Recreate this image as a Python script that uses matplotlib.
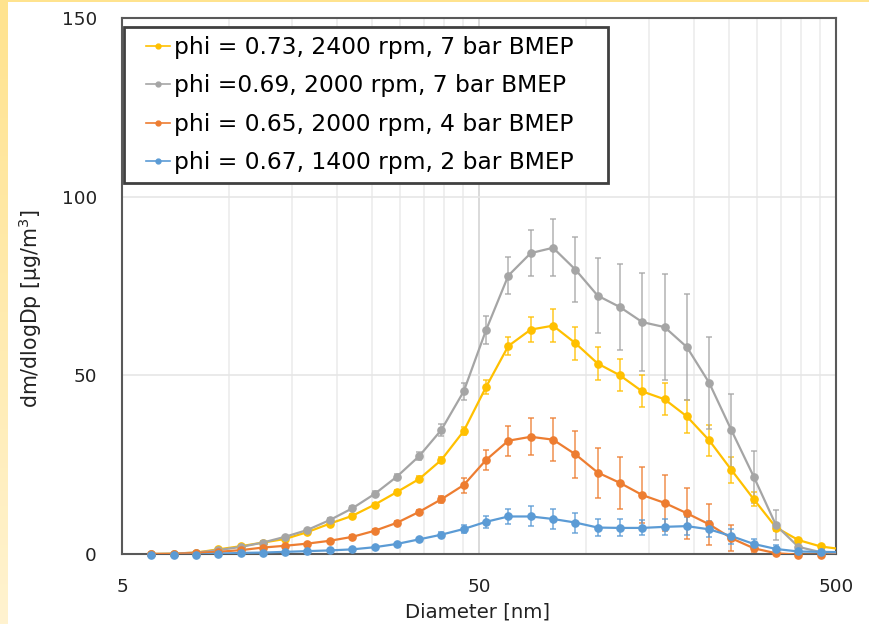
import matplotlib
matplotlib.use('Agg')
import matplotlib.pyplot as plt
from matplotlib.lines import Line2D
from matplotlib.legend_handler import HandlerLine2D
from matplotlib.ticker import FixedLocator, NullFormatter
import numpy as np

plt.rcParams['font.family'] = ['DejaVu Sans']
plt.rcParams['mathtext.default'] = 'regular'

# EEPS channel diameters [nm]
diameter = [6.04, 6.98, 8.06, 9.31, 10.8, 12.4, 14.3, 16.5, 19.1, 22.1, 25.5,
            29.4, 34.0, 39.2, 45.3, 52.3, 60.4, 69.8, 80.6, 93.1, 107.5, 124.1,
            143.3, 165.5, 191.1, 220.7, 254.8, 294.3, 339.8, 392.4, 453.2, 523.3]

labels = ['phi = 0.73, 2400 rpm, 7 bar BMEP',
          'phi =0.69, 2000 rpm, 7 bar BMEP',
          'phi = 0.65, 2000 rpm, 4 bar BMEP',
          'phi = 0.67, 1400 rpm, 2 bar BMEP']
colors = ['#FFC000', '#A5A5A5', '#ED7D31', '#5B9BD5']

# phi = 0.73, 2400 rpm, 7 bar
yellow = [0.0, 0.1, 0.4, 1.3, 2.2, 3.2, 4.2, 6.1, 8.5, 10.7, 13.8, 17.3, 21.0,
          26.3, 34.4, 46.7, 58.2, 62.8, 63.9, 59.0, 53.3, 50.0, 45.5, 43.3,
          38.5, 31.8, 23.5, 15.3, 7.4, 3.9, 2.1, 1.3]
yellow_err = [0.1, 0.1, 0.1, 0.2, 0.2, 0.2, 0.3, 0.3, 0.4, 0.4, 0.5, 0.6, 0.7,
              0.8, 1.2, 2.0, 2.4, 3.5, 4.6, 4.6, 4.7, 4.5, 4.5, 4.5, 4.7, 4.4,
              3.7, 2.0, 1.0, 0.5, 0.3, 0.2]

# phi = 0.69, 2000 rpm, 7 bar
gray = [0.0, 0.1, 0.4, 1.1, 2.0, 3.2, 4.8, 6.7, 9.5, 12.8, 16.8, 21.6, 27.4,
        34.7, 45.5, 62.6, 77.9, 84.2, 85.7, 79.6, 72.3, 69.1, 64.9, 63.5, 57.9,
        47.9, 34.6, 21.6, 8.0, 2.0, 0.5, 0.2]
gray_err = [0.1, 0.1, 0.1, 0.2, 0.2, 0.3, 0.3, 0.4, 0.5, 0.6, 0.7, 0.8, 1.1,
            1.6, 2.3, 3.9, 5.2, 6.5, 8.0, 9.1, 10.4, 12.0, 13.6, 14.9, 14.8,
            12.8, 10.2, 7.2, 4.2, 0.8, 0.3, 0.2]

# phi = 0.65, 2000 rpm, 4 bar
orange = [0.0, 0.0, 0.3, 0.6, 1.1, 1.8, 2.3, 2.9, 3.7, 4.8, 6.5, 8.7, 11.8,
          15.3, 19.3, 26.3, 31.7, 32.8, 32.0, 27.9, 22.8, 19.9, 16.5, 14.3,
          11.4, 8.3, 4.4, 1.6, 0.2, -0.2, -0.2, -0.2]
orange_err = [0.1, 0.1, 0.1, 0.1, 0.2, 0.2, 0.2, 0.3, 0.3, 0.4, 0.4, 0.5, 0.6,
              1.0, 2.1, 2.9, 4.2, 5.2, 6.1, 6.6, 7.0, 7.3, 7.8, 7.9, 7.2, 5.7,
              3.6, 1.0, 0.3, 0.1, 0.1, 0.1]

# phi = 0.67, 1400 rpm, 2 bar
blue = [-0.3, -0.3, -0.2, 0.1, 0.3, 0.4, 0.6, 0.8, 1.0, 1.3, 1.9, 2.8, 4.1,
        5.4, 7.0, 9.0, 10.5, 10.5, 9.8, 8.8, 7.4, 7.3, 7.3, 7.6, 7.8, 6.9, 5.0,
        2.8, 1.4, 0.7, 0.6, 0.5]
blue_err = [0.1, 0.1, 0.1, 0.1, 0.1, 0.1, 0.1, 0.2, 0.2, 0.2, 0.3, 0.4, 0.5,
            0.7, 1.0, 1.6, 2.0, 2.8, 2.8, 2.8, 2.5, 2.4, 2.1, 2.3, 2.6, 2.2,
            2.1, 1.4, 1.2, 0.5, 0.3, 0.2]

series = [(yellow, yellow_err), (gray, gray_err), (orange, orange_err), (blue, blue_err)]

fig = plt.figure(figsize=(8.69, 6.24), dpi=100)
fig.patch.set_facecolor('white')

# yellow slide border (left strip fading down, thin top strip)
strip = fig.add_axes([0, 0, 8 / 869, 1])
grad = np.linspace(0, 1, 256).reshape(-1, 1)
strip.imshow(grad, aspect='auto', cmap=matplotlib.colors.LinearSegmentedColormap.from_list(
    'y', ['#FFE38E', '#FFF3D0']), extent=[0, 1, 0, 1])
strip.axis('off')
top = fig.add_axes([0, 1 - 2 / 624, 1, 2 / 624])
top.axis('off')
top.add_patch(plt.Rectangle((0, 0), 1, 1, color='#FFE38E', transform=top.transAxes))

ax = fig.add_axes([122 / 869, 1 - 554 / 624, 714 / 869, 536 / 624])
ax.set_xscale('log')
ax.set_xlim(5, 500)
ax.set_ylim(0, 150)

d = np.array(diameter)
inside = d <= 500
handles = []
for (vals, err), col, lab in zip(series, colors, labels):
    v = np.array(vals)
    e = np.array(err)
    ax.errorbar(d[inside], v[inside], yerr=e[inside], fmt='none', ecolor=col,
                elinewidth=1.1, capsize=2.5, capthick=1.1, alpha=0.85, clip_on=False, zorder=2)
    ax.plot(d, v, color=col, lw=1.6, zorder=3)
    ax.plot(d[inside], v[inside], 'o', color=col, ms=5.2, clip_on=False, zorder=4)
    handles.append(Line2D([], [], color=col, lw=1.2, marker='o', ms=3.5))

ax.xaxis.set_major_locator(FixedLocator([5, 50, 500]))
ax.xaxis.set_minor_locator(FixedLocator([10, 15, 20, 25, 30, 35, 40, 45,
                                         100, 150, 200, 250, 300, 350, 400, 450]))
ax.xaxis.set_minor_formatter(NullFormatter())
ax.set_xticklabels(['5', '50', '500'])
ax.set_yticks([0, 50, 100, 150])
ax.grid(which='major', axis='x', color='#d4d4d4', lw=1.2)
ax.grid(which='minor', axis='x', color='#ececec', lw=1.2)
ax.grid(which='major', axis='y', color='#e6e6e6', lw=1.2)
ax.set_axisbelow(True)
ax.tick_params(which='both', length=0, labelsize=13.2, colors='#222222')
ax.tick_params(axis='y', pad=18)
ax.tick_params(axis='x', pad=17)
for s in ax.spines.values():
    s.set_color('#595959')
    s.set_linewidth(1.5)

ax.set_xlabel('Diameter [nm]', fontsize=14.2, color='#222222')
ax.xaxis.set_label_coords((478 - 122) / 714, (554 - 602) / 536)
ax.set_ylabel('dm/dlogDp [μg/m$^3$]', fontsize=14.8, color='#222222')
ax.yaxis.set_label_coords((44 - 122) / 714, (554 - 309) / 536)

leg = ax.legend(handles, labels, loc='upper left',
                bbox_to_anchor=(2 / 714, 0.5, 484 / 714, (554 - 27) / 536 - 0.5),
                mode='expand', borderaxespad=0, fontsize=16.8, frameon=True,
                fancybox=False, handlelength=1.6, handletextpad=0.15,
                labelspacing=0.66, borderpad=0.38,
                handler_map={Line2D: HandlerLine2D(xpad=0.55)})
leg.get_frame().set_edgecolor('#404040')
leg.get_frame().set_linewidth(2)
leg.get_frame().set_alpha(1)

fig.savefig('out.png', dpi=100)
